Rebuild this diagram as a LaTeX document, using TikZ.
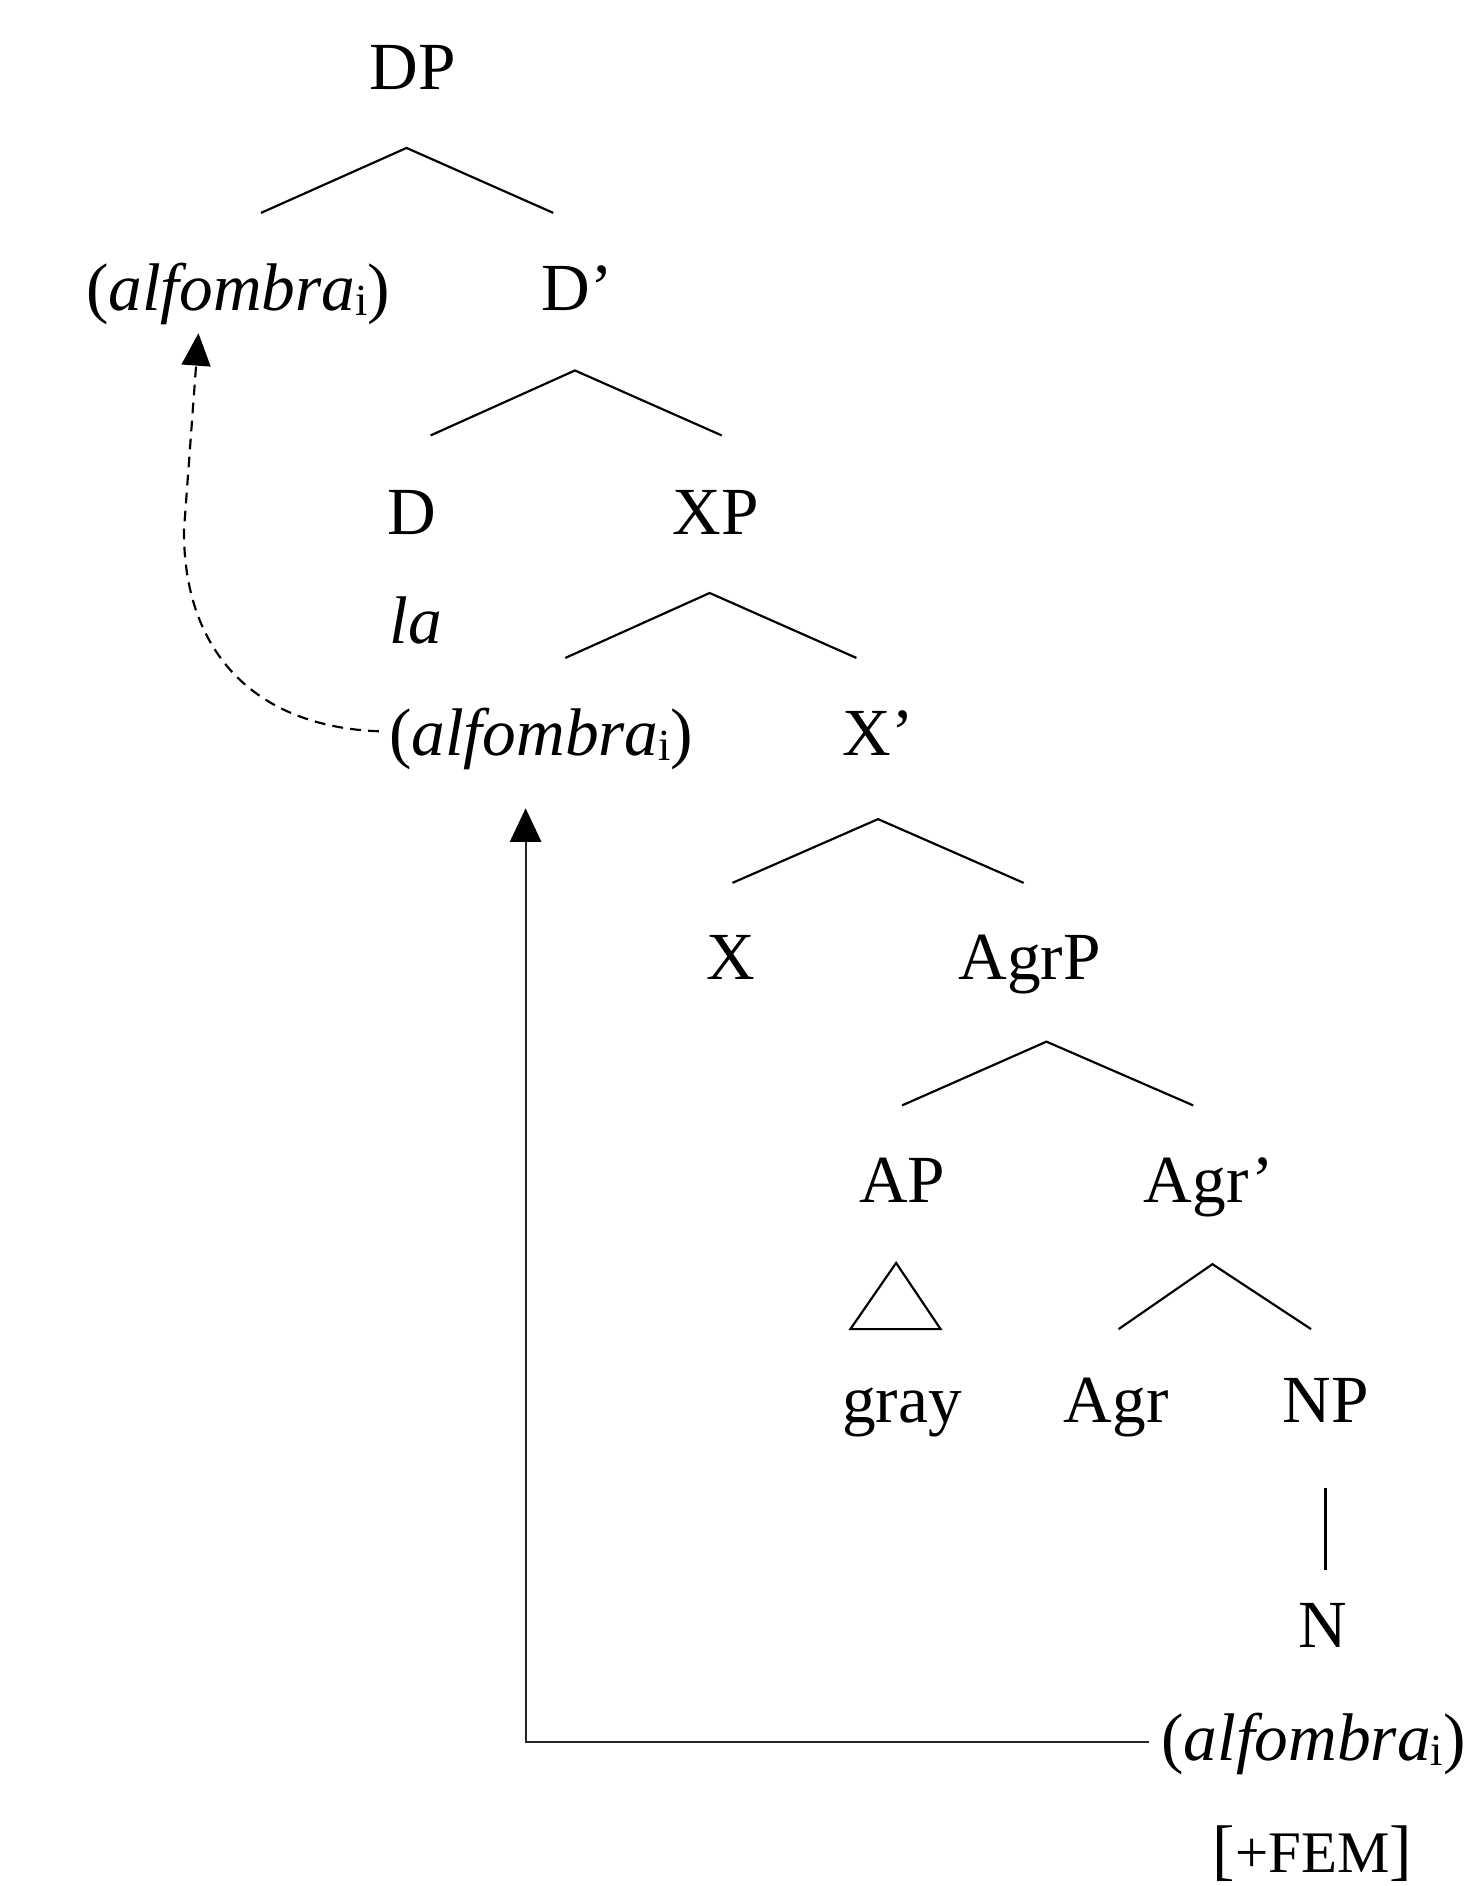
\documentclass[tikz,border=0pt]{standalone}
\usepackage{fontspec}
\setmainfont{Liberation Serif}
\usetikzlibrary{arrows.meta}
\newcommand{\alfo}{(\textit{alfombra}\raisebox{-4pt}{\fontsize{37}{40}\selectfont i})}
\begin{document}
\begin{tikzpicture}[x=1pt,y=-1pt,
  lbl/.style={anchor=base, inner sep=0pt, font=\fontsize{56}{67}\selectfont},
  br/.style={line width=1.8pt},
  mv/.style={line width=1.8pt, draw=black!85, -{Triangle[length=28pt,width=26pt,color=black]}},
  mvd/.style={line width=1.8pt, dash pattern=on 9pt off 6pt, -{Triangle[length=27pt,width=24pt]}}]
\useasboundingbox (0,0) rectangle (1218,1568);
% labels
\node[lbl] (DP) at (343,74) {DP};
\node[lbl] (alfTop) at (198,258) {\alfo};
\node[lbl] (Dbar) at (480,258) {D’};
\node[lbl] (D) at (342,444) {D};
\node[lbl] (XP) at (595,444) {XP};
\node[lbl] (la) at (346,535) {\textit{la}};
\node[lbl] (alfMid) at (450,628) {\alfo};
\node[lbl] (Xbar) at (730,628) {X’};
\node[lbl] (X) at (608,814) {X};
\node[lbl] (AgrP) at (856,814) {AgrP};
\node[lbl] (AP) at (750,1000) {AP};
\node[lbl] (Agrbar) at (1005,1000) {Agr’};
\node[lbl] (gray) at (750,1183) {gray};
\node[lbl] (Agr) at (928,1183) {Agr};
\node[lbl] (NP) at (1102,1183) {NP};
\node[lbl] (N) at (1100,1370) {N};
\node[lbl] (alfBot) at (1092,1464) {\alfo};
\node[lbl] (FEM) at (1091,1557) {[{\fontsize{49}{56}\selectfont +FEM}]};
% branch coordinates
\coordinate (dpA) at (338,123); \coordinate (dpL) at (217,177); \coordinate (dpR) at (460,177);
\coordinate (dbA) at (478,308); \coordinate (dbL) at (358,362); \coordinate (dbR) at (600,362);
\coordinate (xpA) at (590,493); \coordinate (xpL) at (470,547); \coordinate (xpR) at (712,547);
\coordinate (xbA) at (730,681); \coordinate (xbL) at (609,734); \coordinate (xbR) at (851,734);
\coordinate (agA) at (870,866); \coordinate (agL) at (750,919); \coordinate (agR) at (992,919);
\coordinate (abA) at (1008,1051); \coordinate (abL) at (930,1105); \coordinate (abR) at (1090,1105);
\coordinate (trA) at (745,1050); \coordinate (trL) at (707,1105); \coordinate (trR) at (782,1105);
\coordinate (npT) at (1102,1237); \coordinate (npB) at (1102,1305);
\draw[br] (dpL) -- (dpA) -- (dpR);
\draw[br] (dbL) -- (dbA) -- (dbR);
\draw[br] (xpL) -- (xpA) -- (xpR);
\draw[br] (xbL) -- (xbA) -- (xbR);
\draw[br] (agL) -- (agA) -- (agR);
\draw[br] (abL) -- (abA) -- (abR);
\draw[br] (trA) -- (trL) -- (trR) -- cycle;
\draw[br] (npT) -- (npB);
% movement arrows
\coordinate (botStart) at (955,1448);
\coordinate (corner) at (437,1448);
\coordinate (midTip) at (437,672);
\draw[mv] (botStart) -- (corner) -- (midTip);
\coordinate (dStart) at (315,608);
\coordinate (dBend) at (153,440);
\coordinate (topTip) at (165,277);
\draw[mvd] (dStart) .. controls (210,604) and (152,540) .. (dBend) -- (topTip);
\end{tikzpicture}
\end{document}
